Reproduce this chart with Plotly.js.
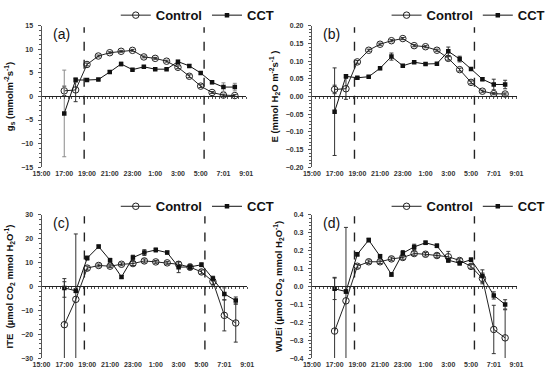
<!DOCTYPE html>
<html><head><meta charset="utf-8">
<script src="https://cdn.plot.ly/plotly-3.0.1.min.js"></script>
<style>html,body{margin:0;padding:0;background:#fff}#c{width:550px;height:379px}</style>
</head><body><div id="c"></div>
<script>
// Hours after 15:00 for each hourly measurement (17:00 ... 8:00 next day)
const hours = [2,3,4,5,6,7,8,9,10,11,12,13,14,15,16,17];
const tickPos = [0,2,4,6,8,10,12,14,16,18];
const tickLabels = ['15:00','17:00','19:00','21:00','23:00','1:00','3:00','5:00','7:01','9:01'];
// Dashed vertical markers (sunset / sunrise), hours after 15:00
const dashedMarks = [3.75, 14.3];

// (a) gs
const gsControl = [1.2,1.4,6.8,8.6,9.3,9.6,9.8,8.4,8.1,7.5,6.2,4.3,2.2,0.85,0.3,0.2];
const gsControlErr = [1.0,2.5,0.3,0.2,0.2,0.2,0.2,0.2,0.2,0.2,0.3,0.3,0.3,0.2,0.2,0.2];
const gsCCT = [-3.6,3.5,3.5,3.6,5.2,6.9,5.7,6.3,5.8,5.8,7.4,6.5,5.0,3.0,2.0,2.0];
const gsCCTErr = [9.2,0.5,0.2,0.2,0.3,0.4,0.2,0.2,0.2,0.2,0.3,0.3,0.3,0.3,0.9,0.8];
// (b) E
const eControl = [0.020,0.022,0.098,0.131,0.148,0.158,0.164,0.144,0.141,0.131,0.108,0.076,0.040,0.015,0.008,0.007];
const eControlErr = [0.012,0.030,0.004,0.003,0.003,0.003,0.003,0.003,0.003,0.003,0.005,0.004,0.004,0.003,0.003,0.003];
const eCCT = [-0.043,0.057,0.053,0.056,0.080,0.113,0.087,0.097,0.092,0.093,0.128,0.106,0.078,0.049,0.034,0.034];
const eCCTErr = [0.124,0.004,0.003,0.003,0.004,0.010,0.003,0.003,0.003,0.003,0.012,0.008,0.004,0.004,0.015,0.012];
// (c) ITE
const iteControl = [-16.0,-5.4,7.7,8.8,8.5,9.3,9.6,10.7,10.3,9.9,9.3,8.1,6.1,2.1,-12.1,-15.3];
const iteControlErr = [18,27.4,0.8,0.6,0.6,0.6,0.8,0.8,0.6,0.6,1.0,1.0,0.8,1.5,6.5,8.0];
const iteCCT = [-0.6,-1.8,11.9,16.7,11.0,4.0,12.1,14.2,15.3,14.2,8.1,8.2,9.1,3.3,-3.1,-5.9];
const iteCCTErr = [3.9,0.8,0.8,0.6,0.8,0.6,1.0,1.2,0.8,0.6,2.3,1.2,0.8,1.0,2.5,1.5];
// (d) WUEi
const wueControl = [-0.249,-0.080,0.113,0.138,0.138,0.154,0.162,0.184,0.180,0.173,0.166,0.145,0.112,0.045,-0.240,-0.287];
const wueControlErr = [0.30,0.41,0.01,0.01,0.01,0.01,0.01,0.01,0.01,0.01,0.03,0.01,0.01,0.03,0.135,0.157];
const wueCCT = [-0.013,-0.028,0.180,0.259,0.169,0.067,0.186,0.221,0.244,0.227,0.147,0.130,0.149,0.058,-0.050,-0.100];
const wueCCTErr = [0.06,0.01,0.01,0.01,0.01,0.01,0.015,0.015,0.01,0.01,0.01,0.01,0.01,0.035,0.02,0.026];

const panels = [
  {c:gsControl, ce:gsControlErr, t:gsCCT, te:gsCCTErr, range:[-15,15], dtick:5, minor:1, fmt:'', label:'(a)',
   title:'g<sub>s</sub> (mmolm<sup>-2</sup>s<sup>-1</sup>)', dom:[[0.0782,0.4636],[0.562,0.9367]], cctErrColor:'#8a8a8a'},
  {c:eControl, ce:eControlErr, t:eCCT, te:eCCTErr, range:[-0.2,0.2], dtick:0.05, minor:0.01, fmt:'.2f', label:'(b)',
   title:'E (mmol H<sub>2</sub>O m<sup>-2</sup>s<sup>-1</sup> )', dom:[[0.5873,0.9727],[0.562,0.9367]], cctErrColor:'#333'},
  {c:iteControl, ce:iteControlErr, t:iteCCT, te:iteCCTErr, range:[-30,30], dtick:10, minor:2, fmt:'', label:'(c)',
   title:'ITE  (µmol CO<sub>2</sub> mmol H<sub>2</sub>O<sup>-1</sup>)', dom:[[0.0782,0.4655],[0.0554,0.4354]], cctErrColor:'#333'},
  {c:wueControl, ce:wueControlErr, t:wueCCT, te:wueCCTErr, range:[-0.4,0.4], dtick:0.1, minor:0.02, fmt:'.1f', label:'(d)',
   title:'WUEi (µmol CO<sub>2</sub> mmol H<sub>2</sub>O<sup>-1</sup>)', dom:[[0.5873,0.9727],[0.0554,0.4354]], cctErrColor:'#333'}
];

const tickFont = {family:'Liberation Sans, Arial, sans-serif', size:7, color:'#333', weight:'bold'};
const traces = [];
const layout = {
  width:550, height:379, margin:{l:0,r:0,t:0,b:0},
  paper_bgcolor:'#fff', plot_bgcolor:'rgba(0,0,0,0)', showlegend:true,
  shapes:[], annotations:[]
};
const legendPos = [[0.525,0.965],[1.035,0.965],[0.525,0.458],[1.035,0.458]];

panels.forEach((p,i)=>{
  const n = i+1;
  const xa = 'x'+(n===1?'':n), ya = 'y'+(n===1?'':n);
  const xk = 'xaxis'+(n===1?'':n), yk = 'yaxis'+(n===1?'':n);
  const lg = 'legend'+(n===1?'':n);
  const zx = 'x'+(n+4), zk = 'xaxis'+(n+4);
  // empty trace so the zero-crossing axis gets drawn
  traces.push({x:[], y:[], xaxis:zx, yaxis:ya, type:'scatter', mode:'lines', showlegend:false, hoverinfo:'skip'});
  traces.push({
    x:hours, y:p.c, xaxis:xa, yaxis:ya, type:'scatter', mode:'lines+markers', name:'Control', legend:lg,
    line:{color:'#222', width:1},
    marker:{symbol:'circle-open', size:6.5, color:'#222', line:{width:1, color:'#222'}},
    error_y:{type:'data', array:p.ce, visible:true, color:'#333', thickness:1, width:2}
  });
  traces.push({
    x:hours, y:p.t, xaxis:xa, yaxis:ya, type:'scatter', mode:'lines+markers', name:'CCT', legend:lg,
    line:{color:'#111', width:1},
    marker:{symbol:'square', size:4.5, color:'#111'},
    error_y:{type:'data', array:p.te, visible:true, color:p.cctErrColor, thickness:1, width:2}
  });
  layout[xk] = {
    domain:p.dom[0], anchor:ya, range:[0,18], tickmode:'array', tickvals:tickPos, ticktext:tickLabels,
    showline:false, showgrid:false, zeroline:false, ticks:'', tickfont:tickFont, ticklabelstandoff:1
  };
  layout[yk] = {
    domain:p.dom[1], anchor:xa, range:p.range, dtick:p.dtick, tick0:0, tickformat:p.fmt,
    showline:true, linecolor:'#555', linewidth:1, ticks:'outside', ticklen:3, tickcolor:'#555',
    minor:{dtick:p.minor, ticks:'outside', ticklen:2, tickcolor:'#555', showgrid:false},
    showgrid:false, zeroline:false, tickfont:tickFont, ticklabelstandoff:3,
    title:{text:p.title, font:{family:'Liberation Sans, Arial, sans-serif', size:9.5, color:'#111', weight:'bold'}, standoff:5}
  };
  layout[zk] = {
    overlaying:xa, anchor:'free', position:(p.dom[1][0]+p.dom[1][1])/2, range:[0,18],
    showline:true, linecolor:'#222', linewidth:1, ticks:'outside', ticklen:2, tickcolor:'#555',
    dtick:1/3, tick0:0, showticklabels:false, showgrid:false, zeroline:false
  };
  dashedMarks.forEach(dx=>{
    layout.shapes.push({type:'line', xref:xa, yref:ya+' domain', x0:dx, x1:dx, y0:0.06, y1:0.99,
      line:{color:'#222', width:1.4, dash:'dash'}});
  });
  layout.annotations.push({text:p.label, xref:xa+' domain', yref:ya+' domain', x:0.045, y:0.94,
    xanchor:'left', yanchor:'middle', showarrow:false,
    font:{family:'Liberation Sans, Arial, sans-serif', size:14, color:'#111'}});
  layout[lg] = {orientation:'h', x:legendPos[i][0], y:legendPos[i][1], xanchor:'right', yanchor:'middle',
    bgcolor:'rgba(0,0,0,0)', itemwidth:30, tracegroupgap:0, itemclick:false,
    font:{family:'Liberation Sans, Arial, sans-serif', size:13, color:'#111', weight:'bold'}};
});

Plotly.newPlot('c', traces, layout, {staticPlot:true, displayModeBar:false});
</script></body></html>
